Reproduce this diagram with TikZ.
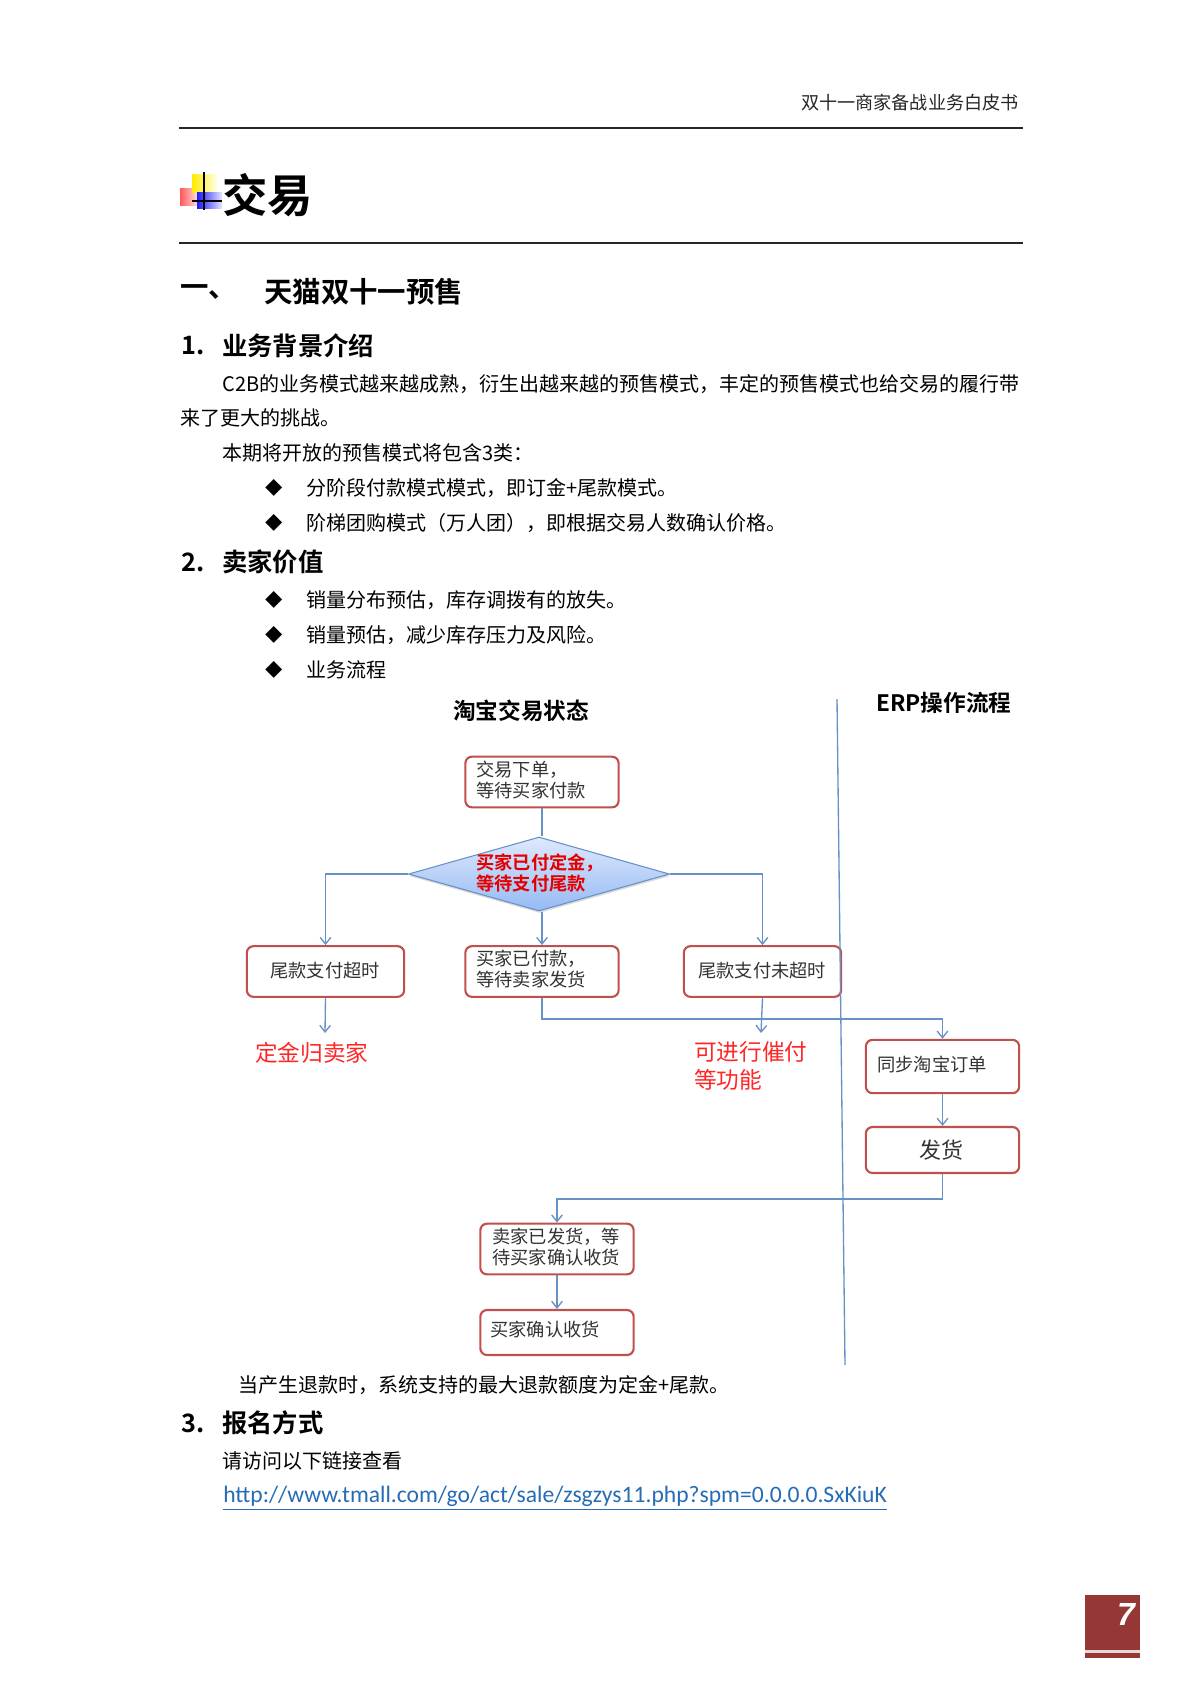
\documentclass[tikz,border=0pt]{standalone}
\usepackage{fontspec}
\usetikzlibrary{shapes.geometric,arrows.meta,shadows}
\setmainfont{Noto Sans CJK SC}[BoldFont={Noto Sans CJK SC Bold}]
\newfontfamily\linkfont{Carlito}
\newfontfamily\pagefont{Liberation Sans}
\definecolor{boxred}{RGB}{192,80,77}
\definecolor{flowblue}{RGB}{104,145,198}
\definecolor{linkblue}{RGB}{38,108,180}
\definecolor{pagered}{RGB}{149,55,53}
\definecolor{decisiontop}{RGB}{222,233,252}
\definecolor{decisionbottom}{RGB}{150,186,244}
\tikzset{
  bodytext/.style={anchor=west,inner sep=0pt,font=\fontsize{15}{18}\selectfont},
  headone/.style={anchor=west,inner sep=0pt,font=\fontsize{21.3}{25}\selectfont\bfseries},
  headtwo/.style={anchor=west,inner sep=0pt,font=\fontsize{19}{23}\selectfont\bfseries},
  bulletmark/.style={inner sep=0pt,font=\fontsize{13}{15}\selectfont},
  flowbox/.style={draw=boxred,line width=1.6pt,rounded corners=5pt,fill=white,inner sep=0pt,minimum width=115pt,minimum height=38pt},
  boxtext/.style={anchor=west,inner sep=0pt,align=left,font=\fontsize{13.7}{16.3}\selectfont,text=black!80},
  redtext/.style={anchor=west,inner sep=0pt,align=left,text=red!85!white,font=\fontsize{17}{21}\selectfont},
  flowline/.style={draw=flowblue,line width=1pt},
  flowarrow/.style={flowline,-{Straight Barb[length=5pt,width=8pt]}},
}
\begin{document}
\begin{tikzpicture}[x=0.75pt,y=0.75pt,yscale=-1,xscale=1]
\useasboundingbox (0,0) rectangle (1200,1698);

%Page rules
\draw [line width=1.1pt,black!85] (179,128) -- (1023,128) ;
\draw [line width=1.1pt,black!85] (179,243) -- (1023,243) ;

% Text Node
\node (pagehead) [anchor=east,inner sep=0pt,font=\fontsize{13.6}{16}\selectfont,text=black!85] at (1019,103) {双十一商家备战业务白皮书};

%Title icon
\shade [left color=red!65,right color=red!15] (180,188) rectangle (197,205) ;
\shade [left color=yellow!85!orange,right color=yellow!10] (192,175) rectangle (217,192) ;
\shade [left color=blue!90,right color=blue!10] (197,192) rectangle (222,208) ;
\draw [line width=1pt,black] (204,172) -- (204,210) ;
\draw [line width=1pt,black] (192,201) -- (222,201) ;

% Text Node
\node (title) [anchor=west,inner sep=0pt,font=\fontsize{34}{38}\selectfont\bfseries] at (222,195) {交易};
\node (secnum) [headone] at (180,292) {一、};
\node (sectitle) [headone] at (264,292) {天猫双十一预售};
\node (onenum) [headtwo] at (181,346) {1.};
\node (onetitle) [headtwo] at (222,346) {业务背景介绍};
\node (introa) [bodytext] at (222,384) {C2B的业务模式越来越成熟，衍生出越来越的预售模式，丰定的预售模式也给交易的履行带};
\node (introb) [bodytext] at (180,418) {来了更大的挑战。};
\node (introc) [bodytext] at (222,453) {本期将开放的预售模式将包含3类：};
\node (marka) [bulletmark] at (274,488) {◆};
\node (itema) [bodytext] at (306,488) {分阶段付款模式模式，即订金+尾款模式。};
\node (markb) [bulletmark] at (274,523) {◆};
\node (itemb) [bodytext] at (306,523) {阶梯团购模式（万人团），即根据交易人数确认价格。};
\node (twonum) [headtwo] at (181,562) {2.};
\node (twotitle) [headtwo] at (222,562) {卖家价值};
\node (markc) [bulletmark] at (274,600) {◆};
\node (itemc) [bodytext] at (306,600) {销量分布预估，库存调拨有的放失。};
\node (markd) [bulletmark] at (274,635) {◆};
\node (itemd) [bodytext] at (306,635) {销量预估，减少库存压力及风险。};
\node (marke) [bulletmark] at (274,670) {◆};
\node (iteme) [bodytext] at (306,670) {业务流程};

% Text Node
\node (tradehead) [anchor=west,inner sep=0pt,font=\fontsize{17}{20}\selectfont\bfseries] at (453,711) {淘宝交易状态};
\node (erphead) [anchor=west,inner sep=0pt,font=\fontsize{17}{20}\selectfont\bfseries] at (876,703) {ERP操作流程};

%Flow boxes
\node (placeorder) [flowbox] at (542,782) {};
\node (deposit) [diamond,draw=flowblue,line width=0.8pt,top color=decisiontop,bottom color=decisionbottom,drop shadow={opacity=0.3,shadow xshift=0.5pt,shadow yshift=-1.5pt},inner sep=0pt,minimum width=195.75pt,minimum height=55.5pt,shape aspect=3.5] at (539,874) {};
\node (tailtimeout) [flowbox,minimum width=118pt] at (325.5,971.5) {};
\node (paid) [flowbox] at (542,971.5) {};
\node (tailopen) [flowbox,minimum width=118pt] at (762.5,971.5) {};
\node (sync) [flowbox,minimum height=40pt] at (942.5,1066.5) {};
\node (ship) [flowbox,minimum height=34.5pt] at (942.5,1150) {};
\node (shipped) [flowbox] at (557,1249) {};
\node (confirm) [flowbox,minimum height=33.75pt] at (557,1332.5) {};

% Text Node
\node (placeordertext) [boxtext] at (476,780) {交易下单，\\等待买家付款};
\node (deposittext) [boxtext,text=red!90!black,font=\fontsize{13.7}{16.3}\selectfont\bfseries] at (476,873) {买家已付定金，\\等待支付尾款};
\node (tailtimeouttext) [boxtext] at (270,971) {尾款支付超时};
\node (paidtext) [boxtext] at (476,969) {买家已付款，\\等待卖家发货};
\node (tailopentext) [boxtext] at (698,971) {尾款支付未超时};
\node (synctext) [boxtext] at (877,1064) {同步淘宝订单};
\node (shiptext) [boxtext,font=\fontsize{16.5}{20}\selectfont] at (919,1150) {发货};
\node (shippedtext) [boxtext] at (492,1247) {卖家已发货，等\\待买家确认收货};
\node (confirmtext) [boxtext] at (490,1329) {买家确认收货};
\node (forfeit) [redtext] at (255,1053) {定金归卖家};
\node (urge) [redtext] at (694,1066) {可进行催付\\等功能};

%Straight Lines
\coordinate (forfeitin) at (325,1033);
\coordinate (urgein) at (761,1033);
\coordinate (bus) at (700,1019);
\coordinate (backbus) at (700,1199);
\coordinate (lanetop) at (837,699);
\coordinate (lanebottom) at (845,1365);
\draw [flowline] (placeorder.south) -- (placeorder.south |- deposit.north) ;
\draw [flowarrow] (deposit.west) -| (tailtimeout.north) ;
\draw [flowarrow] (deposit.east) -| (tailopen.north) ;
\draw [flowarrow] (paid.north |- deposit.south) -- (paid.north) ;
\draw [flowarrow] (tailtimeout.south) -- (forfeitin) ;
\draw [flowarrow] (tailopen.south) -- (urgein) ;
\draw [flowarrow] (paid.south) |- (bus) -| (sync.north) ;
\draw [flowarrow] (sync.south) -- (ship.north) ;
\draw [flowarrow] (ship.south) |- (backbus) -| (shipped.north) ;
\draw [flowarrow] (shipped.south) -- (confirm.north) ;
\draw [flowline] (lanetop) -- (lanebottom) ;

% Text Node
\node (refund) [bodytext] at (238,1385) {当产生退款时，系统支持的最大退款额度为定金+尾款。};
\node (threenum) [headtwo] at (181,1423) {3.};
\node (threetitle) [headtwo] at (222,1423) {报名方式};
\node (visit) [bodytext] at (222,1461) {请访问以下链接查看};
\node (signup) [anchor=west,inner sep=0pt,text=linkblue,font=\linkfont\fontsize{17.7}{20}\selectfont] at (223,1498) {\underline{http://www.tmall.com/go/act/sale/zsgzys11.php?spm=0.0.0.0.SxKiuK}};

%Page number
\fill [pagered] (1085,1595) rectangle (1140,1658) ;
\fill [white!80!pagered] (1085,1650) rectangle (1140,1653) ;
\node (pagenum) [inner sep=0pt,text=white,font=\pagefont\fontsize{24}{28}\selectfont\bfseries\itshape] at (1126,1614) {7};

\end{tikzpicture}
\end{document}
